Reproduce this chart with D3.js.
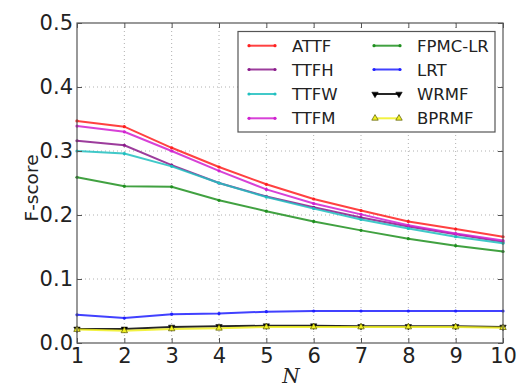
<!DOCTYPE html>
<html><head><meta charset="utf-8">
<script src="https://cdn.jsdelivr.net/npm/d3@7"></script>
<style>body{margin:0;background:#fff}svg{display:block}</style>
</head><body>
<svg id="c" width="518" height="387"></svg>
<script>
const N = [1,2,3,4,5,6,7,8,9,10];
const ATTF   = [0.347,0.338,0.305,0.275,0.248,0.225,0.207,0.190,0.178,0.166];
const TTFH   = [0.316,0.309,0.278,0.250,0.229,0.212,0.196,0.182,0.170,0.158];
const TTFW   = [0.300,0.296,0.276,0.250,0.228,0.210,0.193,0.179,0.166,0.156];
const TTFM   = [0.339,0.330,0.300,0.269,0.240,0.218,0.201,0.184,0.171,0.160];
const FPMCLR = [0.259,0.245,0.244,0.223,0.206,0.190,0.176,0.163,0.152,0.143];
const LRT    = [0.044,0.039,0.045,0.046,0.049,0.050,0.050,0.050,0.050,0.050];
const WRMF   = [0.022,0.022,0.025,0.026,0.027,0.027,0.026,0.026,0.026,0.025];
const BPRMF  = [0.021,0.019,0.022,0.023,0.025,0.025,0.025,0.025,0.025,0.024];
const seriesNames = ["ATTF","TTFH","TTFW","TTFM","FPMC-LR","LRT","WRMF","BPRMF"];
const yTicks = [0.0,0.1,0.2,0.3,0.4,0.5];

const series = [
  {name:"ATTF", v:ATTF, color:"#ff2020", marker:"dot"},
  {name:"TTFH", v:TTFH, color:"#8b1a8b", marker:"dot"},
  {name:"TTFW", v:TTFW, color:"#20c0c0", marker:"dot"},
  {name:"TTFM", v:TTFM, color:"#d020d0", marker:"dot"},
  {name:"FPMC-LR", v:FPMCLR, color:"#209020", marker:"dot"},
  {name:"LRT", v:LRT, color:"#2020ff", marker:"dot"},
  {name:"WRMF", v:WRMF, color:"#000000", marker:"tridown"},
  {name:"BPRMF", v:BPRMF, color:"#f0f020", marker:"triup"}
];

const svg = d3.select("#c");
const L=77,R=503,T=23,B=343;
const x = d3.scaleLinear().domain([1,10]).range([L,R]);
const y = d3.scaleLinear().domain([0,0.5]).range([B,T]);
const font = "DejaVu Sans, sans-serif";

// grid
const g = svg.append("g");
N.forEach(n=>{ if(n>1&&n<10) g.append("line").attr("x1",x(n)).attr("x2",x(n)).attr("y1",T).attr("y2",B)
  .attr("stroke","#b0b0b0").attr("stroke-width",1).attr("stroke-dasharray","1,3"); });
yTicks.forEach(t=>{ if(t>0&&t<0.5) g.append("line").attr("x1",L).attr("x2",R).attr("y1",y(t)).attr("y2",y(t))
  .attr("stroke","#b0b0b0").attr("stroke-width",1).attr("stroke-dasharray","1,3"); });

// lines
const line = d3.line().x((d,i)=>x(N[i])).y(d=>y(d));
series.forEach(s=>{
  const lg = svg.append("g");
  lg.append("path").datum(s.v).attr("d",line).attr("fill","none")
    .attr("stroke",s.color).attr("stroke-width",2).attr("stroke-opacity",0.85);
  s.v.forEach((v,i)=>drawMarker(lg,s,x(N[i]),y(v)));
});

function drawMarker(gr,s,cx,cy){
  if(s.marker==="dot"){
    gr.append("circle").attr("cx",cx).attr("cy",cy).attr("r",1.6).attr("fill",s.color);
  } else if(s.marker==="tridown"){
    gr.append("path").attr("d",d3.symbol(d3.symbolTriangle,18)()).attr("transform",`translate(${cx},${cy}) rotate(180)`)
      .attr("fill","#000").attr("stroke","#000").attr("stroke-width",0.5);
  } else {
    gr.append("path").attr("d",d3.symbol(d3.symbolTriangle,18)()).attr("transform",`translate(${cx},${cy})`)
      .attr("fill","#f0f020").attr("stroke","#555500").attr("stroke-width",0.7);
  }
}

// frame
svg.append("rect").attr("x",L).attr("y",T).attr("width",R-L).attr("height",B-T)
  .attr("fill","none").attr("stroke","#555").attr("stroke-width",1.2);

// axes with inside ticks
const xAxisB = d3.axisBottom(x).tickValues(N).tickFormat(d3.format("d")).tickSizeInner(-5).tickSizeOuter(0).tickPadding(5);
const xAxisT = d3.axisTop(x).tickValues(N).tickFormat("").tickSizeInner(-5).tickSizeOuter(0);
const yAxisL = d3.axisLeft(y).tickValues(yTicks).tickFormat(d3.format(".1f")).tickSizeInner(-5).tickSizeOuter(0).tickPadding(4);
const yAxisR = d3.axisRight(y).tickValues(yTicks).tickFormat("").tickSizeInner(-5).tickSizeOuter(0);
function style(sel){ sel.select(".domain").remove(); sel.selectAll("line").attr("stroke","#555");
  sel.selectAll("text").attr("font-family",font).attr("font-size",21).attr("fill","#222"); }
svg.append("g").attr("transform",`translate(0,${B})`).call(xAxisB).call(style);
svg.append("g").attr("transform",`translate(0,${T})`).call(xAxisT).call(style);
svg.append("g").attr("transform",`translate(${L},0)`).call(yAxisL).call(style);
svg.append("g").attr("transform",`translate(${R},0)`).call(yAxisR).call(style);

// axis labels
svg.append("text").attr("x",291).attr("y",383).attr("text-anchor","middle")
  .attr("font-family","DejaVu Serif, serif").attr("font-style","italic").attr("font-size",20).attr("fill","#222").text("N");
svg.append("text").attr("transform","translate(38,188) rotate(-90)").attr("text-anchor","middle")
  .attr("font-family",font).attr("font-size",18.5).attr("fill","#222").text("F-score");

// legend
const lgd = svg.append("g");
lgd.append("rect").attr("x",238).attr("y",31.5).attr("width",257).attr("height",100.5)
  .attr("fill","#fff").attr("stroke","#555").attr("stroke-width",1.2);
const rows=[45.7,69.5,94,118.3];
series.forEach((s,i)=>{
  const col = i<4?0:1, row=i%4;
  const lx = col===0?249:374, tx = col===0?292:417, ly=rows[row];
  lgd.append("line").attr("x1",lx).attr("x2",lx+26).attr("y1",ly).attr("y2",ly)
    .attr("stroke",s.color).attr("stroke-width",2).attr("stroke-opacity",0.85);
  if(s.marker==="dot"){ drawMarker(lgd,s,lx,ly); drawMarker(lgd,s,lx+26,ly); }
  else { drawMarker(lgd,s,lx+1,ly); drawMarker(lgd,s,lx+25,ly); }
  lgd.append("text").attr("x",tx).attr("y",ly+6).attr("font-family",font).attr("font-size",16.5)
    .attr("fill","#222").text(seriesNames[i]);
});
</script>
</body></html>
